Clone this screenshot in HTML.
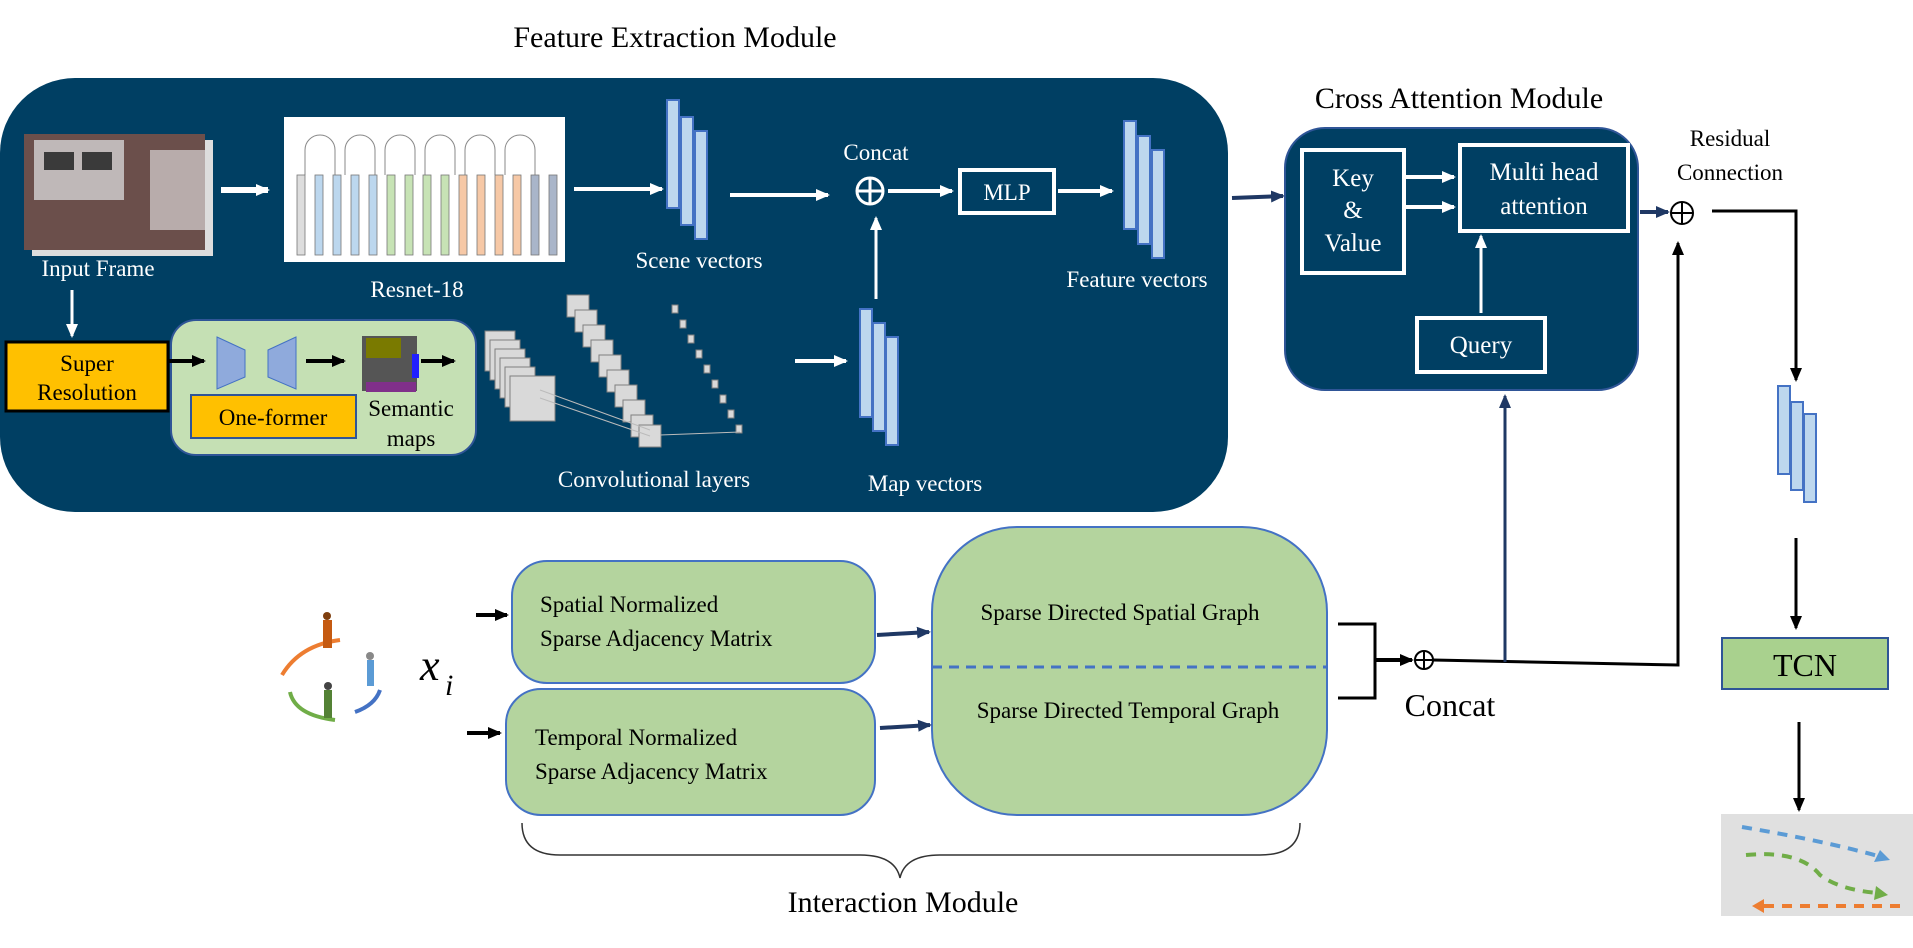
<!DOCTYPE html>
<html><head><meta charset="utf-8"><style>
html,body{margin:0;padding:0;background:#fff;}
svg{display:block;font-family:"Liberation Serif",serif;}
</style></head><body>
<svg width="1913" height="948" viewBox="0 0 1913 948" xmlns="http://www.w3.org/2000/svg">
<defs>
<marker id="aw" markerUnits="userSpaceOnUse" markerWidth="14" markerHeight="14" refX="12" refY="7" orient="auto"><path d="M0,1 L14,7 L0,13 z" fill="#fff"/></marker>
<marker id="ab" markerUnits="userSpaceOnUse" markerWidth="14" markerHeight="14" refX="12" refY="7" orient="auto"><path d="M0,1 L14,7 L0,13 z" fill="#000"/></marker>
<marker id="an" markerUnits="userSpaceOnUse" markerWidth="14" markerHeight="14" refX="12" refY="7" orient="auto"><path d="M0,1 L14,7 L0,13 z" fill="#1f3864"/></marker>
</defs>

<text x="675" y="47" font-size="30" text-anchor="middle">Feature Extraction Module</text>
<rect x="0" y="78" width="1228" height="434" rx="75" fill="#003f63"/>

<!-- input frame -->
<rect x="32" y="140" width="181" height="116" fill="#ddd"/>
<rect x="24" y="134" width="181" height="116" fill="#6b4f4b"/>
<rect x="34" y="140" width="90" height="60" fill="#bfb8b8"/>
<rect x="44" y="152" width="30" height="18" fill="#3a3a3a"/><rect x="82" y="152" width="30" height="18" fill="#3a3a3a"/>
<rect x="150" y="150" width="55" height="80" fill="#d9d4d4" opacity=".7"/>
<text x="98" y="276" font-size="23" fill="#fff" text-anchor="middle">Input Frame</text>
<line x1="221" y1="190" x2="268" y2="190" stroke="#fff" stroke-width="6" marker-end="url(#aw)"/>

<!-- resnet -->
<rect x="284" y="117" width="281" height="145" fill="#fff"/>
<g stroke="#888" stroke-width="1" fill="none">
<path d="M305,175 v-25 a15,15 0 0 1 30,0 v25"/><path d="M345,175 v-25 a15,15 0 0 1 30,0 v25"/>
<path d="M385,175 v-25 a15,15 0 0 1 30,0 v25"/><path d="M425,175 v-25 a15,15 0 0 1 30,0 v25"/>
<path d="M465,175 v-25 a15,15 0 0 1 30,0 v25"/><path d="M505,175 v-25 a15,15 0 0 1 30,0 v25"/>
</g>
<g stroke="#777" stroke-width="0.8">
<rect x="297" y="175" width="8" height="80" fill="#ddd"/><rect x="315" y="175" width="8" height="80" fill="#bcd7ee"/>
<rect x="333" y="175" width="8" height="80" fill="#bcd7ee"/><rect x="351" y="175" width="8" height="80" fill="#bcd7ee"/>
<rect x="369" y="175" width="8" height="80" fill="#bcd7ee"/><rect x="387" y="175" width="8" height="80" fill="#c7e3b5"/>
<rect x="405" y="175" width="8" height="80" fill="#c7e3b5"/><rect x="423" y="175" width="8" height="80" fill="#c7e3b5"/>
<rect x="441" y="175" width="8" height="80" fill="#c7e3b5"/><rect x="459" y="175" width="8" height="80" fill="#f6c8a6"/>
<rect x="477" y="175" width="8" height="80" fill="#f6c8a6"/><rect x="495" y="175" width="8" height="80" fill="#f6c8a6"/>
<rect x="513" y="175" width="8" height="80" fill="#f6c8a6"/><rect x="531" y="175" width="8" height="80" fill="#a9b5c9"/>
<rect x="549" y="175" width="8" height="80" fill="#a9b5c9"/>
</g>
<text x="417" y="297" font-size="23" fill="#fff" text-anchor="middle">Resnet-18</text>
<line x1="574" y1="189" x2="662" y2="189" stroke="#fff" stroke-width="4" marker-end="url(#aw)"/>

<!-- scene vectors -->
<g fill="#bdd7ee" stroke="#4472c4" stroke-width="2">
<rect x="667" y="100" width="12" height="108"/><rect x="681" y="117" width="12" height="108"/><rect x="695" y="131" width="12" height="108"/>
</g>
<text x="699" y="268" font-size="23" fill="#fff" text-anchor="middle">Scene vectors</text>
<line x1="730" y1="195" x2="828" y2="195" stroke="#fff" stroke-width="4" marker-end="url(#aw)"/>

<!-- concat -->
<text x="876" y="160" font-size="23" fill="#fff" text-anchor="middle">Concat</text>
<circle cx="870" cy="191" r="13" fill="none" stroke="#fff" stroke-width="3"/>
<line x1="857" y1="191" x2="883" y2="191" stroke="#fff" stroke-width="3"/><line x1="870" y1="178" x2="870" y2="204" stroke="#fff" stroke-width="3"/>
<line x1="888" y1="191" x2="952" y2="191" stroke="#fff" stroke-width="4" marker-end="url(#aw)"/>
<rect x="960" y="170" width="94" height="43" fill="none" stroke="#fff" stroke-width="4"/>
<text x="1007" y="200" font-size="23" fill="#fff" text-anchor="middle">MLP</text>
<line x1="1058" y1="191" x2="1112" y2="191" stroke="#fff" stroke-width="4" marker-end="url(#aw)"/>
<line x1="876" y1="299" x2="876" y2="218" stroke="#fff" stroke-width="3" marker-end="url(#aw)"/>

<!-- feature vectors -->
<g fill="#bdd7ee" stroke="#4472c4" stroke-width="2">
<rect x="1124" y="121" width="12" height="108"/><rect x="1138" y="136" width="12" height="108"/><rect x="1152" y="150" width="12" height="108"/>
</g>
<text x="1137" y="287" font-size="23" fill="#fff" text-anchor="middle">Feature vectors</text>

<!-- super resolution -->
<line x1="72" y1="290" x2="72" y2="336" stroke="#fff" stroke-width="3" marker-end="url(#aw)"/>
<rect x="6" y="342" width="162" height="69" fill="#ffc000" stroke="#000" stroke-width="3"/>
<text x="87" y="371" font-size="23" text-anchor="middle">Super</text>
<text x="87" y="400" font-size="23" text-anchor="middle">Resolution</text>
<rect x="171" y="320" width="305" height="135" rx="25" fill="#c5e0b4" stroke="#2f5597" stroke-width="2"/>
<line x1="168" y1="361" x2="204" y2="361" stroke="#000" stroke-width="4" marker-end="url(#ab)"/>
<polygon points="217,337 245,350 245,377 217,389" fill="#8faadc" stroke="#4472c4"/>
<polygon points="296,337 268,350 268,377 296,389" fill="#8faadc" stroke="#4472c4"/>
<line x1="306" y1="361" x2="344" y2="361" stroke="#000" stroke-width="4" marker-end="url(#ab)"/>
<rect x="362" y="336" width="55" height="55" fill="#555"/>
<rect x="366" y="338" width="35" height="20" fill="#7a7a00"/>
<rect x="412" y="354" width="7" height="24" fill="#2020ff"/>
<rect x="366" y="382" width="50" height="10" fill="#80308a"/>
<line x1="421" y1="361" x2="454" y2="361" stroke="#000" stroke-width="4" marker-end="url(#ab)"/>
<rect x="191" y="395" width="165" height="43" fill="#ffc000" stroke="#2f5597" stroke-width="2"/>
<text x="273" y="425" font-size="23" text-anchor="middle">One-former</text>
<text x="411" y="416" font-size="23" text-anchor="middle">Semantic</text>
<text x="411" y="446" font-size="23" text-anchor="middle">maps</text>

<!-- conv layers -->
<g fill="#d9d9d9" stroke="#7f7f7f" stroke-width="1">
<rect x="485" y="331" width="30" height="40"/><rect x="490" y="340" width="30" height="40"/><rect x="495" y="349" width="30" height="40"/>
<rect x="500" y="358" width="30" height="40"/><rect x="505" y="367" width="30" height="40"/><rect x="510" y="376" width="45" height="45"/>
</g>
<g fill="#d9d9d9" stroke="#7f7f7f" stroke-width="1">
<rect x="567" y="295" width="22" height="22"/><rect x="575" y="310" width="22" height="22"/><rect x="583" y="325" width="22" height="22"/>
<rect x="591" y="340" width="22" height="22"/><rect x="599" y="355" width="22" height="22"/><rect x="607" y="370" width="22" height="22"/>
<rect x="615" y="385" width="22" height="22"/><rect x="623" y="400" width="22" height="22"/><rect x="631" y="415" width="22" height="22"/>
<rect x="639" y="425" width="22" height="22"/><rect x="672" y="305" width="6" height="8"/><rect x="680" y="320" width="6" height="8"/>
<rect x="688" y="335" width="6" height="8"/><rect x="696" y="350" width="6" height="8"/><rect x="704" y="365" width="6" height="8"/>
<rect x="712" y="380" width="6" height="8"/><rect x="720" y="395" width="6" height="8"/><rect x="728" y="410" width="6" height="8"/>
<rect x="736" y="425" width="6" height="8"/>
</g>
<line x1="540" y1="390" x2="650" y2="430" stroke="#bbb"/><line x1="540" y1="398" x2="650" y2="436" stroke="#bbb"/>
<line x1="660" y1="435" x2="740" y2="432" stroke="#bbb"/>
<text x="654" y="487" font-size="23" fill="#fff" text-anchor="middle">Convolutional layers</text>
<line x1="795" y1="361" x2="846" y2="361" stroke="#fff" stroke-width="4" marker-end="url(#aw)"/>

<!-- map vectors -->
<g fill="#bdd7ee" stroke="#4472c4" stroke-width="2">
<rect x="860" y="309" width="12" height="108"/><rect x="873" y="323" width="12" height="108"/><rect x="886" y="337" width="12" height="108"/>
</g>
<text x="925" y="491" font-size="23" fill="#fff" text-anchor="middle">Map vectors</text>

<!-- cross attention -->
<line x1="1232" y1="198" x2="1283" y2="196" stroke="#1f3864" stroke-width="4" marker-end="url(#an)"/>
<text x="1459" y="108" font-size="30" text-anchor="middle">Cross Attention Module</text>
<rect x="1285" y="128" width="353" height="262" rx="40" fill="#003f63" stroke="#2f5597" stroke-width="2"/>
<rect x="1302" y="150" width="102" height="123" fill="none" stroke="#fff" stroke-width="4"/>
<text x="1353" y="186" font-size="25" fill="#fff" text-anchor="middle">Key</text>
<text x="1353" y="218" font-size="25" fill="#fff" text-anchor="middle">&amp;</text>
<text x="1353" y="251" font-size="25" fill="#fff" text-anchor="middle">Value</text>
<rect x="1460" y="145" width="168" height="86" fill="none" stroke="#fff" stroke-width="4"/>
<text x="1544" y="180" font-size="25" fill="#fff" text-anchor="middle">Multi head</text>
<text x="1544" y="214" font-size="25" fill="#fff" text-anchor="middle">attention</text>
<line x1="1406" y1="177" x2="1454" y2="177" stroke="#fff" stroke-width="4" marker-end="url(#aw)"/>
<line x1="1406" y1="207" x2="1454" y2="207" stroke="#fff" stroke-width="4" marker-end="url(#aw)"/>
<rect x="1417" y="318" width="128" height="54" fill="none" stroke="#fff" stroke-width="4"/>
<text x="1481" y="353" font-size="25" fill="#fff" text-anchor="middle">Query</text>
<line x1="1481" y1="313" x2="1481" y2="236" stroke="#fff" stroke-width="3" marker-end="url(#aw)"/>

<!-- residual -->
<text x="1730" y="146" font-size="23" text-anchor="middle">Residual</text>
<text x="1730" y="180" font-size="23" text-anchor="middle">Connection</text>
<line x1="1640" y1="212" x2="1668" y2="212" stroke="#1f3864" stroke-width="4" marker-end="url(#an)"/>
<circle cx="1682" cy="213" r="11" fill="none" stroke="#000" stroke-width="2"/>
<line x1="1671" y1="213" x2="1693" y2="213" stroke="#000" stroke-width="2"/><line x1="1682" y1="202" x2="1682" y2="224" stroke="#000" stroke-width="2"/>
<polyline points="1712,211 1796,211 1796,380" fill="none" stroke="#000" stroke-width="3" marker-end="url(#ab)"/>
<g fill="#bdd7ee" stroke="#4472c4" stroke-width="2">
<rect x="1778" y="386" width="12" height="88"/><rect x="1791" y="402" width="12" height="88"/><rect x="1804" y="414" width="12" height="88"/>
</g>
<line x1="1796" y1="538" x2="1796" y2="628" stroke="#000" stroke-width="3" marker-end="url(#ab)"/>
<rect x="1722" y="638" width="166" height="51" fill="#a9d18e" stroke="#2f5597" stroke-width="2"/>
<text x="1805" y="676" font-size="32" text-anchor="middle">TCN</text>
<line x1="1799" y1="722" x2="1799" y2="810" stroke="#000" stroke-width="3" marker-end="url(#ab)"/>
<rect x="1721" y="814" width="192" height="102" fill="#e0e0e0"/>
<path d="M1742,827 Q1820,840 1878,856" fill="none" stroke="#5b9bd5" stroke-width="4" stroke-dasharray="10,8"/>
<polygon points="1890,860 1874,862 1880,850" fill="#5b9bd5"/>
<path d="M1746,855 Q1800,850 1820,875 Q1840,890 1878,893" fill="none" stroke="#70ad47" stroke-width="4" stroke-dasharray="10,8"/>
<polygon points="1888,895 1874,900 1876,886" fill="#70ad47"/>
<path d="M1900,906 L1760,906" fill="none" stroke="#ed7d31" stroke-width="4" stroke-dasharray="10,8"/>
<polygon points="1752,906 1764,899 1764,913" fill="#ed7d31"/>

<!-- interaction -->
<path d="M282,675 Q300,645 340,640" fill="none" stroke="#ed7d31" stroke-width="4"/>
<path d="M290,692 Q295,715 335,720" fill="none" stroke="#70ad47" stroke-width="4"/>
<path d="M380,690 Q375,705 355,712" fill="none" stroke="#4472c4" stroke-width="4"/>
<rect x="323" y="620" width="9" height="28" fill="#c55a11"/><circle cx="327" cy="616" r="4" fill="#7f3f0f"/>
<rect x="367" y="660" width="7" height="26" fill="#5b9bd5"/><circle cx="370" cy="656" r="4" fill="#888"/>
<rect x="324" y="690" width="8" height="28" fill="#548235"/><circle cx="328" cy="686" r="4" fill="#444"/>
<text x="420" y="680" font-size="44" font-style="italic">x</text><text x="445" y="695" font-size="30" font-style="italic">i</text>
<line x1="476" y1="615" x2="507" y2="615" stroke="#000" stroke-width="4" marker-end="url(#ab)"/>
<line x1="467" y1="733" x2="500" y2="733" stroke="#000" stroke-width="4" marker-end="url(#ab)"/>
<rect x="512" y="561" width="363" height="122" rx="35" fill="#b4d49e" stroke="#4472c4" stroke-width="2"/>
<rect x="506" y="689" width="369" height="126" rx="35" fill="#b4d49e" stroke="#4472c4" stroke-width="2"/>
<text x="540" y="612" font-size="23">Spatial Normalized</text>
<text x="540" y="646" font-size="23">Sparse Adjacency Matrix</text>
<text x="535" y="745" font-size="23">Temporal Normalized</text>
<text x="535" y="779" font-size="23">Sparse Adjacency Matrix</text>
<rect x="932" y="527" width="395" height="288" rx="85" fill="#b4d49e" stroke="#4472c4" stroke-width="2"/>
<line x1="932" y1="667" x2="1327" y2="667" stroke="#4472c4" stroke-width="3" stroke-dasharray="10,7"/>
<text x="1120" y="620" font-size="23" text-anchor="middle">Sparse Directed Spatial Graph</text>
<text x="1128" y="718" font-size="23" text-anchor="middle">Sparse Directed Temporal Graph</text>
<line x1="877" y1="635" x2="929" y2="632" stroke="#1f3864" stroke-width="4" marker-end="url(#an)"/>
<line x1="880" y1="728" x2="930" y2="725" stroke="#1f3864" stroke-width="4" marker-end="url(#an)"/>
<polyline points="1338,624 1375,624 1375,698 1338,698" fill="none" stroke="#000" stroke-width="3"/>
<line x1="1375" y1="660" x2="1412" y2="660" stroke="#000" stroke-width="4" marker-end="url(#ab)"/>
<circle cx="1424" cy="660" r="9" fill="none" stroke="#000" stroke-width="2"/>
<line x1="1415" y1="660" x2="1433" y2="660" stroke="#000" stroke-width="2"/><line x1="1424" y1="651" x2="1424" y2="669" stroke="#000" stroke-width="2"/>
<polyline points="1433,660 1678,665 1678,243" fill="none" stroke="#000" stroke-width="3" marker-end="url(#ab)"/>
<line x1="1505" y1="662" x2="1505" y2="396" stroke="#1f3864" stroke-width="3" marker-end="url(#an)"/>
<text x="1450" y="716" font-size="32" text-anchor="middle">Concat</text>
<path d="M522,823 Q522,855 560,855 L860,855 Q895,855 900,878 Q905,855 940,855 L1260,855 Q1300,855 1300,823" fill="none" stroke="#333" stroke-width="1.5"/>
<text x="903" y="912" font-size="30" text-anchor="middle">Interaction Module</text>
</svg>
</body></html>
